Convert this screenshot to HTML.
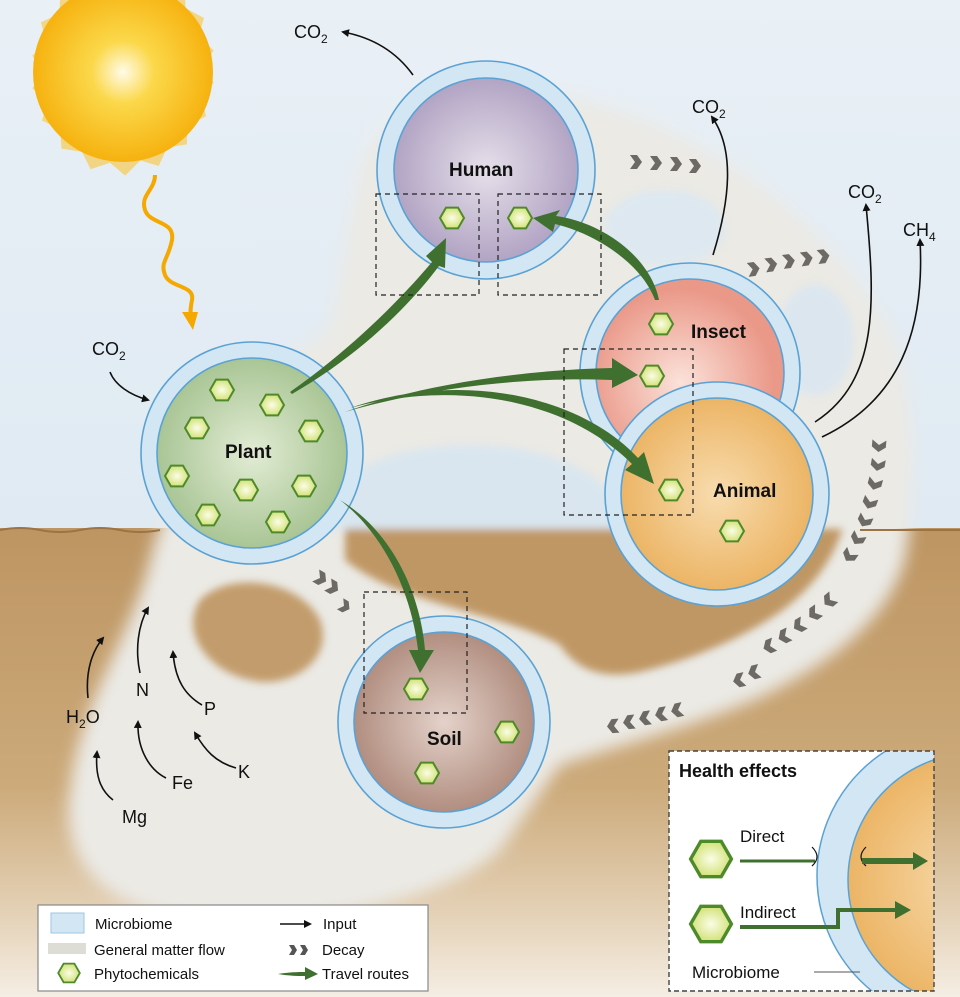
<!DOCTYPE html>
<html><head><meta charset="utf-8"><style>
html,body{margin:0;padding:0;width:960px;height:997px;overflow:hidden}
svg{display:block;font-family:"Liberation Sans",sans-serif}
</style></head><body>
<svg width="960" height="997" viewBox="0 0 960 997" xmlns="http://www.w3.org/2000/svg">
<defs>
<linearGradient id="sky" x1="0" y1="0" x2="0" y2="1"><stop offset="0" stop-color="#e9f0f6"/><stop offset="1" stop-color="#d7e5ef"/></linearGradient>
<linearGradient id="ground" x1="0" y1="0" x2="0" y2="1"><stop offset="0" stop-color="#bd9562"/><stop offset="0.55" stop-color="#ccaa7a"/><stop offset="0.82" stop-color="#e4d1b6"/><stop offset="1" stop-color="#f5eee4"/></linearGradient>
<radialGradient id="sun"><stop offset="0" stop-color="#fffbe8"/><stop offset="0.35" stop-color="#fbd84a"/><stop offset="1" stop-color="#f6b20f"/></radialGradient>
<radialGradient id="gPlant"><stop offset="0" stop-color="#e2ecd4"/><stop offset="1" stop-color="#a9c595"/></radialGradient>
<radialGradient id="gHuman"><stop offset="0" stop-color="#e6e0ea"/><stop offset="1" stop-color="#b2a4c4"/></radialGradient>
<radialGradient id="gInsect" cx="0.45" cy="0.55"><stop offset="0" stop-color="#fbe2da"/><stop offset="1" stop-color="#ea9888"/></radialGradient>
<radialGradient id="gAnimal"><stop offset="0" stop-color="#f8dcae"/><stop offset="1" stop-color="#ecb566"/></radialGradient>
<radialGradient id="gSoil"><stop offset="0" stop-color="#e4d2ca"/><stop offset="1" stop-color="#b18e80"/></radialGradient>
<radialGradient id="gHex"><stop offset="0" stop-color="#fbfde6"/><stop offset="1" stop-color="#d3e27a"/></radialGradient>
<filter id="blur" x="-20%" y="-20%" width="140%" height="140%"><feGaussianBlur stdDeviation="8"/></filter>
<filter id="blur2" x="-20%" y="-20%" width="140%" height="140%"><feGaussianBlur stdDeviation="4"/></filter>
<clipPath id="above"><rect x="0" y="0" width="960" height="529"/></clipPath>
<clipPath id="below"><rect x="0" y="529" width="960" height="468"/></clipPath>
<g id="hex"><path d="M12 0 L6 10.4 L-6 10.4 L-12 0 L-6 -10.4 L6 -10.4 Z" fill="url(#gHex)" stroke="#4e8a2a" stroke-width="2"/></g>
<g id="chev"><path d="M-5 -7 L2 -7 L7 0 L2 7 L-5 7 L0 0 Z" fill="#6d6a66"/></g>
<marker id="ah" markerWidth="8" markerHeight="8" refX="6" refY="4" orient="auto" markerUnits="userSpaceOnUse"><path d="M0 0 L8 4 L0 8 Z" fill="#111"/></marker>
</defs>

<rect width="960" height="997" fill="url(#sky)"/>
<rect y="528" width="960" height="469" fill="url(#ground)"/>

<!-- general matter flow -->
<g filter="url(#blur)">
<path fill="#ebeae5" d="M330 330 L360 170 C380 100 470 80 560 95 C700 120 830 220 890 330 C920 400 915 500 905 560 C885 625 825 665 765 695 C700 725 620 745 560 765 L500 850 C450 900 300 930 200 920 C100 910 60 860 70 790 C80 700 130 640 150 560 C170 470 250 380 330 330Z"/>
</g>
<g filter="url(#blur2)">
<ellipse cx="665" cy="228" rx="60" ry="38" fill="#dde8f0"/>
<ellipse cx="815" cy="340" rx="38" ry="55" fill="#dbe6ef"/>
<g clip-path="url(#above)"><ellipse cx="470" cy="520" rx="150" ry="75" fill="#d9e6ef"/></g>
<g clip-path="url(#below)"><path fill="#bf9765" d="M345 520 L845 520 C835 560 810 590 780 612 C740 640 690 660 640 672 C600 680 575 668 560 645 C500 612 400 605 345 560 Z"/></g>
<path d="M200 600 C230 570 300 580 320 620 C335 660 290 690 250 680 C205 670 180 630 200 600 Z" fill="#c29c6c"/>
</g>
<path d="M0 530 Q20 526 40 530 T80 530 T120 530 T160 530 M860 530 T900 530 T940 530 T980 530" fill="none" stroke="#9c7345" stroke-width="2"/>

<!-- sun -->
<g transform="translate(123,72)">
<path d="M0 -104 L13 -91 L31 -96 L38 -80 L57 -77 L58 -59 L75 -50 L70 -33 L84 -20 L74 -5 L84 10 L72 23 L77 41 L60 49 L59 67 L41 70 L33 87 L16 82 L2 96 L-12 84 L-30 90 L-38 74 L-57 71 L-58 53 L-75 45 L-70 28 L-84 15 L-74 0 L-84 -15 L-71 -28 L-76 -46 L-59 -54 L-58 -72 L-40 -75 L-33 -92 L-15 -87 Z" fill="#f8c43a" opacity="0.6" transform="scale(1.08)"/>
<circle r="90" fill="url(#sun)"/>
</g>
<path d="M155 175 C155 190 140 195 145 210 C150 225 175 220 172 240 C168 260 160 262 165 275 C170 288 195 285 192 300 C190 310 190 315 192 318" fill="none" stroke="#f5a800" stroke-width="4"/>
<path d="M182 312 L198 312 L193 330 Z" fill="#f5a800"/>

<!-- input arrows -->
<g fill="none" stroke="#111" stroke-width="1.6" marker-end="url(#ah)">
<path d="M413 75 C395 50 370 37 343 32"/>
<path d="M110 372 C115 385 130 395 148 400"/>
<path d="M713 255 C730 200 735 150 712 117"/>
<path d="M815 422 C880 380 875 300 866 205"/>
<path d="M822 437 C900 400 925 330 920 240"/>
<path d="M88 698 C85 670 93 650 103 638"/>
<path d="M140 673 C135 650 138 625 148 608"/>
<path d="M202 705 C185 695 175 680 173 652"/>
<path d="M166 778 C150 770 137 750 138 722"/>
<path d="M236 768 C215 762 205 750 195 733"/>
<path d="M113 800 C100 790 95 775 97 752"/>
</g>
<g font-size="18" fill="#111">
<text x="294" y="38">CO<tspan font-size="12" dy="5">2</tspan></text>
<text x="92" y="355">CO<tspan font-size="12" dy="5">2</tspan></text>
<text x="692" y="113">CO<tspan font-size="12" dy="5">2</tspan></text>
<text x="848" y="198">CO<tspan font-size="12" dy="5">2</tspan></text>
<text x="903" y="236">CH<tspan font-size="12" dy="5">4</tspan></text>
<text x="66" y="723">H<tspan font-size="12" dy="5">2</tspan><tspan dy="-5">O</tspan></text>
<text x="136" y="696">N</text>
<text x="204" y="715">P</text>
<text x="172" y="789">Fe</text>
<text x="238" y="778">K</text>
<text x="122" y="823">Mg</text>
</g>

<!-- decay chevrons -->
<use href="#chev" x="635" y="162"/><use href="#chev" x="655" y="163"/><use href="#chev" x="675" y="164"/><use href="#chev" x="694" y="166"/>
<g transform="rotate(-8 790 262)"><use href="#chev" x="752" y="264"/><use href="#chev" x="770" y="262"/><use href="#chev" x="788" y="261"/><use href="#chev" x="806" y="261"/><use href="#chev" x="823" y="261"/></g>
<g>
<use href="#chev" transform="translate(879,445) rotate(95)"/><use href="#chev" transform="translate(878,464) rotate(100)"/><use href="#chev" transform="translate(875,483) rotate(105)"/><use href="#chev" transform="translate(870,502) rotate(110)"/><use href="#chev" transform="translate(865,520) rotate(115)"/><use href="#chev" transform="translate(858,538) rotate(120)"/><use href="#chev" transform="translate(850,555) rotate(125)"/>
<use href="#chev" transform="translate(830,600) rotate(140)"/><use href="#chev" transform="translate(815,613) rotate(145)"/><use href="#chev" transform="translate(800,625) rotate(150)"/><use href="#chev" transform="translate(785,636) rotate(155)"/><use href="#chev" transform="translate(770,646) rotate(158)"/><use href="#chev" transform="translate(755,672) rotate(165)"/><use href="#chev" transform="translate(740,680) rotate(168)"/>
<use href="#chev" transform="translate(678,710) rotate(168)"/><use href="#chev" transform="translate(662,714) rotate(170)"/><use href="#chev" transform="translate(646,718) rotate(172)"/><use href="#chev" transform="translate(630,722) rotate(174)"/><use href="#chev" transform="translate(614,726) rotate(176)"/>
<use href="#chev" transform="translate(320,578) rotate(30)"/><use href="#chev" transform="translate(332,587) rotate(30)"/><use href="#chev" transform="translate(344,606) rotate(30) scale(0.9)"/>
</g>

<!-- circles -->
<g stroke="#5aa2d4" stroke-width="1.6">
<circle cx="486" cy="170" r="109" fill="#d3e6f4"/><circle cx="486" cy="170" r="92" fill="url(#gHuman)"/>
<circle cx="252" cy="453" r="111" fill="#d3e6f4"/><circle cx="252" cy="453" r="95" fill="url(#gPlant)"/>
<circle cx="690" cy="373" r="110" fill="#d3e6f4"/><circle cx="690" cy="373" r="94" fill="url(#gInsect)"/>
<circle cx="717" cy="494" r="112" fill="#d3e6f4"/><circle cx="717" cy="494" r="96" fill="url(#gAnimal)"/>
<circle cx="444" cy="722" r="106" fill="#d3e6f4"/><circle cx="444" cy="722" r="90" fill="url(#gSoil)"/>
</g>
<g font-size="19" font-weight="bold" fill="#111">
<text x="449" y="176">Human</text>
<text x="691" y="338">Insect</text>
<text x="713" y="497">Animal</text>
<text x="225" y="458">Plant</text>
<text x="427" y="745">Soil</text>
</g>

<!-- hexes -->
<use href="#hex" x="222" y="390"/><use href="#hex" x="272" y="405"/><use href="#hex" x="197" y="428"/><use href="#hex" x="311" y="431"/>
<use href="#hex" x="177" y="476"/><use href="#hex" x="246" y="490"/><use href="#hex" x="304" y="486"/><use href="#hex" x="208" y="515"/><use href="#hex" x="278" y="522"/>
<use href="#hex" x="452" y="218"/><use href="#hex" x="520" y="218"/>
<use href="#hex" x="661" y="324"/><use href="#hex" x="652" y="376"/>
<use href="#hex" x="671" y="490"/><use href="#hex" x="732" y="531"/>
<use href="#hex" x="416" y="689"/><use href="#hex" x="507" y="732"/><use href="#hex" x="427" y="773"/>

<!-- travel routes -->
<g fill="#3f7030">
<path d="M290 392 C350 350 400 300 432 262 L426 256 L446 238 L445 268 L439 266 C410 305 360 355 292 394 Z"/>
<path d="M655 300 C640 260 590 232 555 224 L553 232 L533 218 L560 210 L556 216 C600 222 650 255 659 300 Z"/>
<path d="M345 412 C420 385 520 370 612 368 L612 358 L638 375 L612 388 L612 380 C520 376 420 390 345 412 Z"/>
<path d="M350 408 C460 370 580 395 638 458 L644 452 L654 484 L625 470 L632 464 C570 402 460 378 350 408 Z"/>
<path d="M340 500 C390 530 420 590 425 650 L434 650 L420 673 L409 650 L418 650 C412 595 385 535 340 500 Z"/>
</g>

<!-- dashed boxes -->
<g fill="none" stroke="#222" stroke-width="1.2" stroke-dasharray="5,4">
<rect x="376" y="194" width="103" height="101"/>
<rect x="498" y="194" width="103" height="101"/>
<rect x="564" y="349" width="129" height="166"/>
<rect x="364" y="592" width="103" height="121"/>
</g>

<!-- legend -->
<rect x="38" y="905" width="390" height="86" fill="#fff" stroke="#888" stroke-width="1.2"/>
<rect x="51" y="913" width="33" height="20" fill="#d3e6f4" stroke="#9cc6e4"/>
<rect x="48" y="943" width="38" height="11" fill="#dddcd5"/>
<use href="#hex" transform="translate(69,973) scale(0.9)"/>
<g font-size="15" fill="#111">
<text x="95" y="929">Microbiome</text>
<text x="94" y="955">General matter flow</text>
<text x="94" y="979">Phytochemicals</text>
<text x="323" y="929">Input</text>
<text x="322" y="955">Decay</text>
<text x="322" y="979">Travel routes</text>
</g>
<path d="M280 924 L310 924" stroke="#111" stroke-width="1.6" marker-end="url(#ah)"/>
<path d="M289 945 L294 945 L297 950 L294 955 L289 955 L292 950Z M300 945 L305 945 L308 950 L305 955 L300 955 L303 950Z" fill="#555"/>
<path d="M278 974 C290 972 300 972 305 972 L305 967 L318 974 L305 980 L305 976 C298 976 290 976 278 974Z" fill="#3f7030"/>

<!-- health effects -->
<rect x="669" y="751" width="265" height="240" fill="#fff"/>
<svg x="669" y="751" width="265" height="240">
<circle cx="296" cy="125" r="148" fill="#d3e6f4" stroke="#5aa2d4" stroke-width="1.5"/>
<circle cx="306" cy="129" r="127" fill="url(#gAnimal)" stroke="#5aa2d4" stroke-width="1.5"/>
</svg>
<rect x="669" y="751" width="265" height="240" fill="none" stroke="#444" stroke-width="1.4" stroke-dasharray="5,3"/>
<text x="679" y="777" font-size="18" font-weight="bold" fill="#111">Health effects</text>
<use href="#hex" transform="translate(711,859) scale(1.7)"/>
<use href="#hex" transform="translate(711,924) scale(1.7)"/>
<g font-size="17" fill="#111">
<text x="740" y="842">Direct</text>
<text x="740" y="918">Indirect</text>
<text x="692" y="978">Microbiome</text>
</g>
<path d="M740 861 L815 861" stroke="#3f7030" stroke-width="3"/>
<path d="M812 847 Q822 857 812 866 M866 847 Q856 857 866 866" fill="none" stroke="#111" stroke-width="1.2"/>
<path d="M862 858 L913 858 L913 852 L928 861 L913 870 L913 864 L862 864Z" fill="#3f7030"/>
<path d="M740 927 L838 927 L838 910 L897 910" fill="none" stroke="#3f7030" stroke-width="4"/>
<path d="M895 901 L911 910 L895 919Z" fill="#3f7030"/>
<path d="M814 972 L860 972" stroke="#555" stroke-width="1"/>
</svg>
</body></html>
